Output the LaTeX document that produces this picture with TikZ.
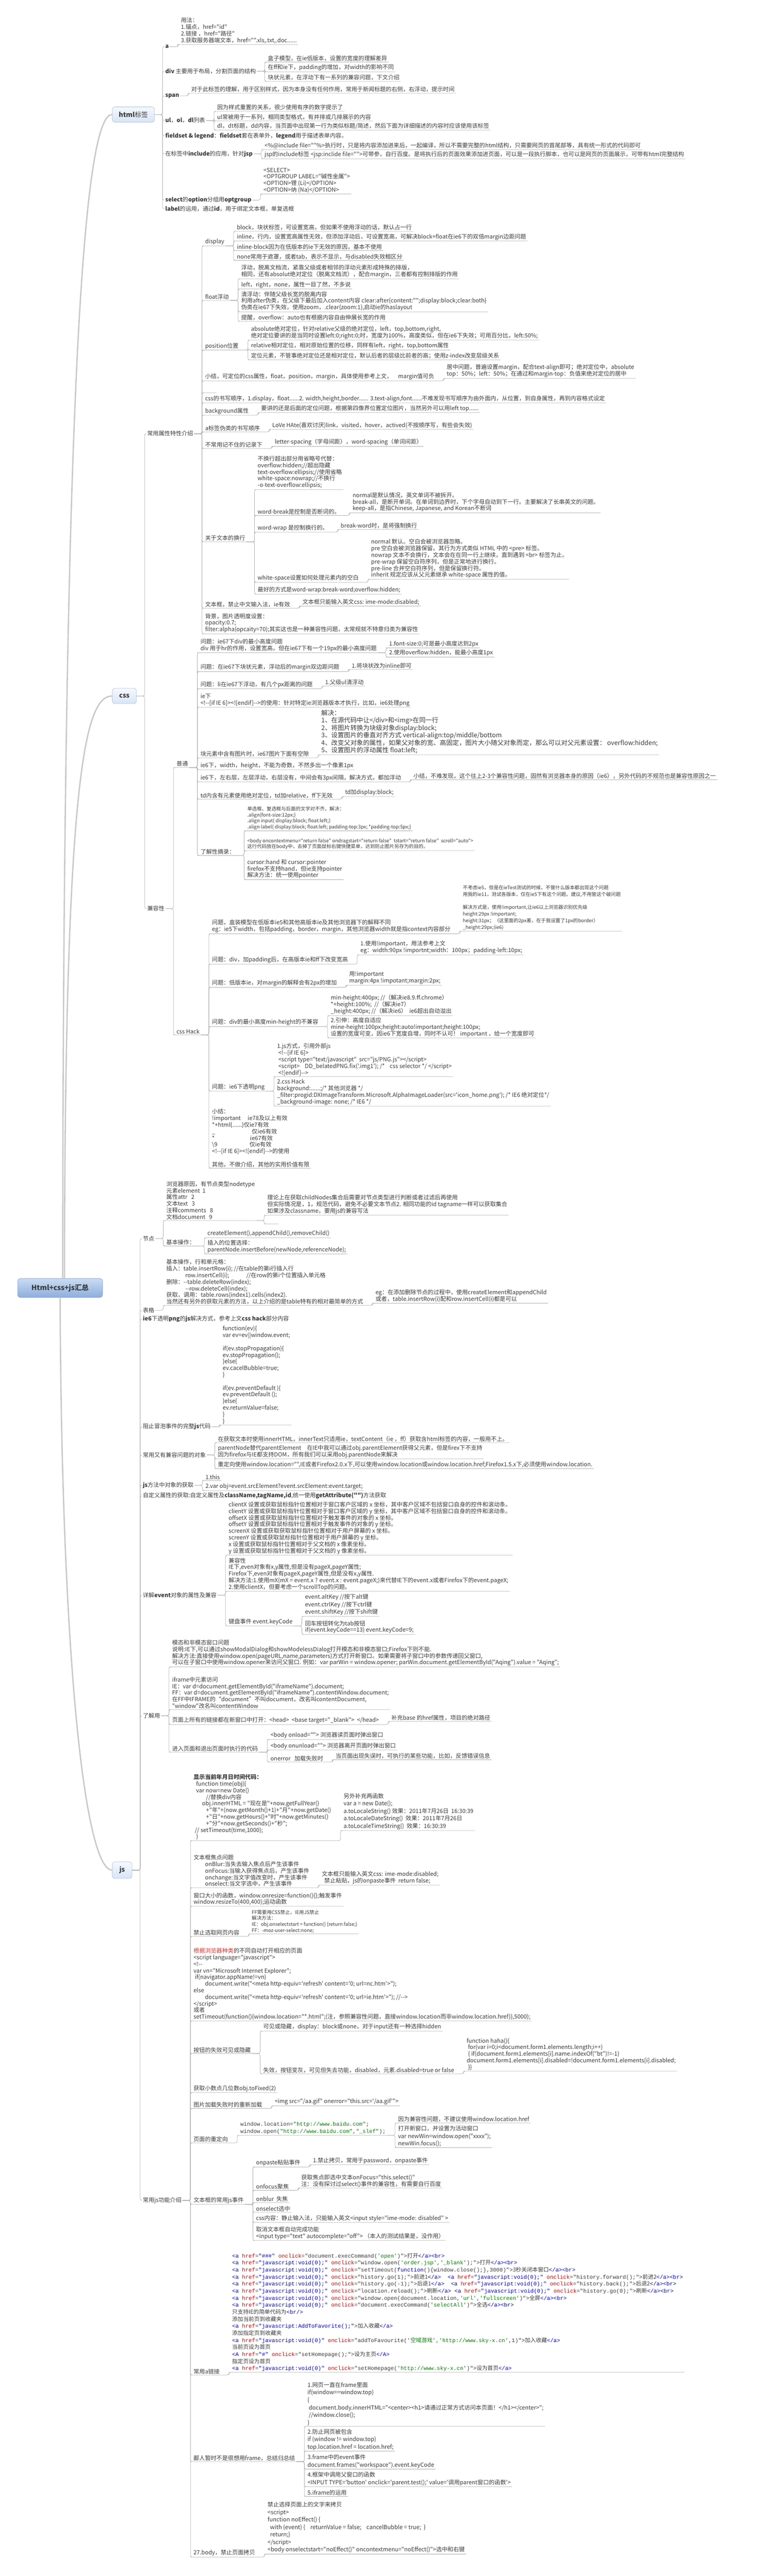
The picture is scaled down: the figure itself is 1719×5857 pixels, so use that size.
\documentclass[tikz,border=0pt]{standalone}
\usepackage{fontspec}
\usetikzlibrary{calc}
\newfontfamily\zhf{Noto Sans CJK SC}
\newfontfamily\monof{Liberation Mono}
\definecolor{txtc}{HTML}{3A3A3A}
\definecolor{lnkc}{HTML}{B4B4B4}
\definecolor{trunkc}{HTML}{C8C8C8}
\definecolor{boxtop}{HTML}{F6F9FE}
\definecolor{boxbot}{HTML}{D8E4F6}
\definecolor{boxedge}{HTML}{AFC1DA}
\definecolor{roottop}{HTML}{CADCF3}
\definecolor{rootbot}{HTML}{8DADDB}
\definecolor{rootedge}{HTML}{809DC8}
\definecolor{tagc}{HTML}{0000CC}
\definecolor{attc}{HTML}{CC0000}
\definecolor{strc}{HTML}{008000}
\definecolor{redc}{HTML}{E0302A}

\newcommand\fs{\zhf\fontsize{13}{15}\selectfont}
\newcommand\fsm{\zhf\fontsize{11}{13.5}\selectfont}
\newcommand\fsn{\zhf\fontsize{11}{15}\selectfont}
\newcommand\fsl{\zhf\fontsize{13}{17}\selectfont}
\newcommand\fbg{\zhf\fontsize{14.5}{17}\selectfont}
\newcommand\fcd{\monof\fontsize{12.5}{16}\selectfont}
\newcommand\zh[1]{{\zhf #1}}
\newcommand\tgc[1]{\textcolor{tagc}{#1}}
\newcommand\atc[1]{\textcolor{attc}{#1}}
\newcommand\svc[1]{\textcolor{strc}{#1}}

\tikzset{
  lnk/.style={draw=lnkc, line width=0.9pt, rounded corners=4pt},
  trunk/.style={draw=trunkc, line width=3pt, line cap=round},
  topic/.style={anchor=west, inner xsep=2pt, inner ysep=1pt, align=left, text=txtc, font=\fs},
  sub/.style={anchor=south west, inner xsep=3pt, inner ysep=2pt, align=left, text=txtc, font=\fs},
  small/.style={font=\fsm},
  narrow/.style={font=\fsn},
  loose/.style={font=\fsl},
  big/.style={font=\fbg},
  code/.style={font=\fcd},
  blank/.style={minimum width=28pt, minimum height=12pt},
  mainbox/.style={draw=boxedge, line width=0.8pt, rounded corners=6pt, top color=boxtop, bottom color=boxbot,
    minimum height=35pt, text=txtc, font=\zhf\fontsize{15}{18}\selectfont},
  rootbox/.style={draw=rootedge, line width=0.8pt, rounded corners=6pt, top color=roottop, bottom color=rootbot,
    minimum width=193pt, minimum height=43pt, text=txtc, font=\zhf\bfseries\fontsize{16}{19}\selectfont},
}

\newcommand\tpc[4]{\node[topic] (#2) at ($(#1.east |- 0,#3)+(22,0)$) {#4};
  \draw[lnk] (#1.east) -- ++(18,0) |- (#2.west);}
\newcommand\tsub[5][]{\node[sub,#1] (#3) at ($(#2.east |- 0,#4)+(22,9)$) {#5};
  \draw[lnk] (#2.east) -- ++(18,0) |- (#3.south west) -- (#3.south east);}
\newcommand\ssub[5][]{\node[sub,#1] (#3) at ($(#2.south east |- 0,#4)+(22,9)$) {#5};
  \draw[lnk] (#2.south east) -- ++(18,0) |- (#3.south west) -- (#3.south east);}

\begin{document}
\begin{tikzpicture}[x=1pt, y=-1pt]
\fill[white] (0,0) rectangle (1719,5857);
\useasboundingbox (0,0) rectangle (1719,5857);

\node[rootbox] (root) at (136.5,2928.5) {Html+css+js汇总};
\node[mainbox, minimum width=96pt] (html) at (303,260.5) {\textbf{html}标签};
\node[mainbox, minimum width=55pt] (css) at (282.5,1582.5) {\textbf{css}};
\node[mainbox, minimum width=45pt, minimum height=38pt] (js) at (277.5,4252) {\textbf{js}};
\draw[trunk] ([xshift=6pt]root.north) .. controls (143,700) and (200,260.5) .. (html.west);
\draw[trunk] ([xshift=10pt]root.north) .. controls (147,1750) and (195,1582.5) .. (css.west);
\draw[trunk] (root.south) .. controls (140,3800) and (195,4252) .. (js.west);

\tpc{html}{ha}{106}{\textbf{a}}
\tpc{html}{hdiv}{162}{\textbf{div} 主要用于布局，分割页面的结构}
\tpc{html}{hspan}{218}{\textbf{span}}
\tpc{html}{hul}{274}{\textbf{ul}，\textbf{ol}，\textbf{dl}列表}
\tpc{html}{hfs}{309}{\textbf{fieldset \& legend}：\textbf{fieldset}套在表单外，\textbf{legend}用于描述表单内容。}
\tpc{html}{hinc}{350}{在标签中\textbf{include}的应用，针对\textbf{jsp}}
\tpc{html}{hsel}{455}{\textbf{select}的\textbf{option}分组用\textbf{optgroup}}
\tpc{html}{hlab}{475}{\textbf{label}的运用，通过\textbf{id}，用于绑定文本框，单复选框}
\tsub{ha}{ha1}{92}{用法：\\1.锚点，href="id"\\2.链接 ，href="路径"\\3.获取服务器端文本，href="".xls,.txt,.doc......}
\tsub{hdiv}{hdiv1}{132}{盒子模型，在ie低版本，设置的宽度的理解差异}
\tsub{hdiv}{hdiv2}{154}{在ff和ie下，padding的增加，对width的影响不同}
\tsub{hdiv}{hdiv3}{176}{块状元素，在浮动下有一系列的兼容问题，下文介绍}
\tsub{hspan}{hspan1}{203}{对于此标签的理解，用于区别样式，因为本身没有任何作用，常用于新闻标题的右侧，右浮动，提示时间}
\tsub{hul}{hul1}{244}{因为样式重置的关系，很少使用有序的数字提示了}
\tsub{hul}{hul2}{266}{ul常被用于一系列，相同类型格式，有并排或几排展示的内容}
\tsub{hul}{hul3}{287}{dl，dt标题，dd内容，当页面中出现第一行为类似标题/简述，然后下面为详细描述的内容时应该使用该标签}
\tsub{hinc}{hinc1}{331}{<\%@include file=""\%>执行时，只是将内容添加进来后，一起编译，所以不需要完整的html结构，只需要网页的首尾部等，具有统一形式的代码即可}
\tsub{hinc}{hinc2}{352}{jsp的include标签 <jsp:inclide file="">可带参，自行百度。是将执行后的页面效果添加进页面，可以是一段执行脚本，也可以是网页的页面展示，可带有html完整结构}
\tsub{hsel}{hsel1}{432}{<SELECT>\\<OPTGROUP LABEL="碱性金属">\\<OPTION>锂 (Li)</OPTION>\\<OPTION>纳 (Na)</OPTION>}

\tpc{css}{attr}{986}{常用属性特性介绍}
\tpc{css}{cmp}{2066}{兼容性}
\tsub{attr}{disp}{550}{display}
\ssub{disp}{disp1}{517}{block，块状标签，可设置宽高，但如果不使用浮动的话，默认占一行}
\ssub{disp}{disp2}{539}{inline，行内，设置宽高属性无效，但添加浮动后，可设置宽高，可解决block+float在ie6下的双倍margin边距问题}
\ssub{disp}{disp3}{561}{inline-block因为在低版本的ie下无效的原因，基本不使用}
\ssub{disp}{disp4}{583}{none常用于遮罩，或者tab，表示不显示，与disabled失效相区分}
\tsub{attr}{flt}{674}{float浮动}
\ssub{flt}{flt1}{625}{浮动，脱离文档流，紧靠父级或者相邻的浮动元素形成特殊的排版，\\相同，还有absolut绝对定位（脱离文档流），配合margin，三者都有控制排版的作用}
\ssub{flt}{flt2}{648}{left，right，none，属性一目了然，不多说}
\ssub{flt}{flt3}{700}{清浮动：伴随父级长宽的脱离内容\\利用after伪类，在父级下最后加入content内容 clear:after\{content:"";display:block;clear:both\}\\伪类在ie67下失效，使用zoom，.clear\{zoom:1\},启动ie的haslayout}
\ssub{flt}{flt4}{722}{提醒，overflow：auto也有根据内容自由伸展长宽的作用}
\tsub{attr}{pos}{787}{position位置}
\ssub{pos}{pos1}{764}{absolute绝对定位，针对relative父级的绝对定位，left，top,bottom,right,\\绝对定位要讲的是当同时设置left:0;right:0;时，宽度为100\%，高度类似，但在ie6下失效；可用百分比，left:50\%;}
\ssub{pos}{pos2}{787}{relative相对定位，相对原始位置的位移，同样有left，right，top,bottom属性}
\ssub{pos}{pos3}{809}{定位元素，不管事绝对定位还是相对定位，默认后者的层级比前者的高；使用z-index改变层级关系}
\tsub{attr}{smry}{857}{小结，可定位的css属性，float，position，margin，具体使用参考上文，\quad margin值可负}
\ssub{smry}{smry1}{851}{居中问题，普遍设置margin，配合text-align即可；绝对定位中，absolute\\top：50\%；left：50\%；在通过和margin-top：负值来绝对定位的居中}
\tsub[blank]{attr}{blk}{884}{}
\tsub{attr}{ord}{907}{css的书写顺序，1.display，float......2. width,height,border...... 3.text-align,font......不难发现书写顺序为由外面内，从位置，到自身属性，再到内容格式设定}
\tsub{attr}{bgp}{935}{background属性}
\ssub{bgp}{bgp1}{929}{要讲的还是后面的定位问题，根据第四像界位置定位图片，当然另外可以用left top......}
\tsub{attr}{apc}{973}{a标签伪类的书写顺序}
\ssub{apc}{apc1}{967}{LoVe HAte(喜欢讨厌)link，visited，hover，actived(不按顺序写，有些会失效)}
\tsub{attr}{rare}{1011}{不常用记不住的记录下}
\ssub{rare}{rare1}{1006}{letter-spacing（字母间距），word-spacing（单词间距）}
\tsub{attr}{wrp}{1223}{关于文本的换行}
\ssub{wrp}{wrp1}{1104}{不换行超出部分用省略号代替：\\overflow:hidden;//超出隐藏\\text-overflow:ellipsis;//使用省略\\white-space:nowrap;//不换行\\-o-text-overflow:ellipsis;}
\ssub{wrp}{wrp2}{1163}{word-break是控制是否断词的。}
\ssub{wrp2}{wrp2a}{1157}{normal是默认情况，英文单词不被拆开。\\break-all，是断开单词。在单词到边界时，下个字母自动到下一行。主要解决了长串英文的问题。\\keep-all，是指Chinese, Japanese, and Korean不断词}
\ssub{wrp}{wrp3}{1201}{word-wrap 是控制换行的。}
\ssub{wrp3}{wrp3a}{1195}{break-word时，是将强制换行}
\ssub{wrp}{wrp4}{1315}{white-space设置如何处理元素内的空白}
\ssub{wrp4}{wrp4a}{1308}{normal 默认。空白会被浏览器忽略。\\pre 空白会被浏览器保留。其行为方式类似 HTML 中的 <pre> 标签。\\nowrap 文本不会换行，文本会在在同一行上继续，直到遇到 <br> 标签为止。\\pre-wrap 保留空白符序列，但是正常地进行换行。\\pre-line 合并空白符序列，但是保留换行符。\\inherit 规定应该从父元素继承 white-space 属性的值。}
\ssub{wrp}{wrp5}{1342}{最好的方式是word-wrap:break-word;overflow:hidden;}
\tsub{attr}{ime}{1374}{文本框，禁止中文输入法，ie有效}
\ssub{ime}{ime1}{1369}{文本框只能输入英文css: ime-mode:disabled;}
\tsub{attr}{opa}{1432}{背景，图片透明度设置：\\opacity:0.7;\\filter:alpha(opcaity=70);其实这也是一种兼容性问题，太常规就不特意归类为兼容性}

\tsub{cmp}{pt}{1736}{普通}
\tsub{cmp}{hk}{2344}{css Hack}
\ssub{pt}{q1}{1475}{问题：ie67下div的最小高度问题\\div 用于hr的作用，设置宽高，但在ie67下有一个19px的最小高度问题}
\ssub{q1}{q1a}{1464}{1.font-size:0;可是最小高度达到2px}
\ssub{q1}{q1b}{1485}{2.使用overflow:hidden，能最小高度1px}
\ssub{pt}{q2}{1518}{问题：在ie67下块状元素，浮动后的margin双边距问题}
\ssub{q2}{q2a}{1513}{1.将块状改为inline即可}
\ssub{pt}{q3}{1557}{问题：li在ie67下浮动，有几个px距离的问题}
\ssub{q3}{q3a}{1551}{1.父级ul清浮动}
\ssub{pt}{q4}{1599}{ie下\\<!-{}-[if IE 6]><![endif]-{}->的使用：针对特定ie浏览器版本才执行，比如，ie6处理png}
\ssub{pt}{q5}{1714}{块元素中含有图片时，ie67图片下面有空隙}
\ssub[big]{q5}{q5a}{1707}{解决：\\1、在源代码中让</div>和<img>在同一行\\2、将图片转换为块级对象display:block;\\3、设置图片的垂直对齐方式 vertical-align:top/middle/bottom\\4、改变父对象的属性，如果父对象的宽、高固定，图片大小随父对象而定，那么可以对父元素设置： overflow:hidden;\\5、设置图片的浮动属性 float:left;}
\ssub{pt}{q6}{1741}{ie6下，width，height，不能为奇数，不然多出一个像素1px}
\ssub{pt}{q7}{1769}{ie6下，左右层，左层浮动，右层没有，中间会有3px间隔，解决方式，都加浮动}
\ssub{q7}{q7a}{1764}{小结，不难发现，这个往上2-3个兼容性问题，固然有浏览器本身的原因（ie6），另外代码的不规范也是兼容性原因之一}
\ssub{pt}{q8}{1808}{td内含有元素使用绝对定位，td加relative，ff下无效}
\ssub{q8}{q8a}{1802}{td加display:block;}
\ssub{pt}{q9}{1936}{了解性摘录：}
\ssub[small]{q9}{q9a}{1880}{单选框、复选框与后面的文字对不齐。解决：\\.align\{font-size:12px;\}\\.align input\{ display:block; float:left;\}\\.align label\{ display:block; float:left; padding-top:3px; *padding-top:5px;\}}
\ssub[small]{q9}{q9b}{1925}{<body oncontextmenu="return false" ondragstart="return false"~ tstart="return false"~ scroll="auto">\\这行代码放在body中，去掉了页面鼠标右键快捷菜单，达到防止图片另存为的目的。}
\ssub{q9}{q9c}{1991}{cursor:hand 和 cursor:pointer\\firefox不支持hand，但ie支持pointer\\解决方法：统一使用pointer}
\ssub{hk}{h1}{2114}{问题，盒装模型在低版本ie5和其他高版本ie及其他浏览器下的解释不同\\eg：ie5下width，包括padding，border，margin，其他浏览器width就是指context内容部分}
\ssub[narrow]{h1}{h1a}{2108}{不考虑ie5，但是在ieTest测试的时候，不管什么版本都出现这个问题\\用我的ie11，测试各版本，仅在ie5下有这个问题。建议,不用管这个破问题\\[15pt]解决方式是，使用!important,让ie6以上浏览器识别优先级\\height:29px !important;\\height:31px；（这里面的2px差，在于我设置了1px的border）\\\_height:29px;(ie6)}
\ssub{hk}{h2}{2183}{问题：div，加padding后，在高版本ie和ff下改变宽高}
\ssub{h2}{h2a}{2162}{1.使用!important，用法参考上文\\eg：width:90px !importnt;width：100px；padding-left:10px;}
\ssub{hk}{h3}{2236}{问题：低版本ie，对margin的解释会有2px的增加}
\ssub{h3}{h3a}{2231}{用!important\\margin:4px !impotant;margin:2px;}
\ssub{hk}{h4}{2325}{问题：div的最小高度min-height的不兼容}
\ssub{h4}{h4a}{2300}{min-height:400px; //（解决ie8.9.ff.chrome）\\{}*+height:100\%;~ //（解决ie7）\\\_height:400px; //（解决ie6）~ ie6超出自动溢出}
\ssub{h4}{h4b}{2351}{2.引伸：高度自适应\\mine-height:100px;height:auto!important;height:100px;\\设置的宽度可变，因ie6下宽度自增，同时不认可！ important ，给一个宽度即可}
\ssub{hk}{h5}{2472}{问题：ie6下透明png}
\ssub{h5}{h5a}{2439}{1.js方式，引用外部js\\~<!-{}-[if IE 6]>\\~<script type="text/javascript"~ src="js/PNG.js"></script>\\~<script>~~~~DD\_belatedPNG.fix('.img1'); /*~~~~css selector */ </script>\\~<![endif]-{}->}
\ssub{h5}{h5b}{2506}{2.css Hack\\background:......;/* 其他浏览器 */\\\_filter:progid:DXImageTransform.Microsoft.AlphaImageLoader(src='icon\_home.png'); /* IE6 绝对定位*/\\\_background-image: none; /* IE6 */}
\ssub{hk}{h6}{2647}{小结：\\!important\hspace{1.2em}ie78及以上有效\\{}*+html\{......\}仅ie7有效\\\_\hspace{6.4em}仅ie6有效\\{}*\hspace{6.2em}ie67有效\\\textbackslash 9\hspace{5.6em}仅ie有效\\<!-{}-[if IE 6]><![endif]-{}->的使用\\[15pt]其他，不做介绍，其他的实用价值有限}

\tpc{js}{jnd}{2816}{节点}
\tpc{js}{jtb}{2979}{表格}
\tpc{js}{jpng}{2999}{\textbf{ie6}下透明\textbf{png}的\textbf{js}解决方式，参考上文\textbf{css hack}部分内容}
\tpc{js}{jbub}{3244}{阻止冒泡事件的完整\textbf{js}代码}
\tpc{js}{jobj}{3308}{常用又有兼容问题的对象}
\tpc{js}{jget}{3377}{\textbf{js}方法中对象的获取}
\tpc{js}{jatt}{3401}{自定义属性的获取:自定义属性及\textbf{className,tagName,id},统一使用\textbf{getAttribute("")}方法获取}
\tpc{js}{jevt}{3627}{详解\textbf{event}对象的属性及兼容}
\tpc{js}{juse}{3901}{了解用}
\tpc{js}{jfun}{5003}{常用js功能介绍}
\tsub{jnd}{nd1}{2766}{浏览器原因，有节点类型nodetype\\元素element~~1\\属性attr~~~2\\文本text~~~3\\注释comments~~~8\\文档document~~~9}
\ssub{nd1}{nd1a}{2754}{理论上在获取childNodes集合后需要对节点类型进行判断或者过滤后再使用\\但实际情况是，1，规范代码，避免不必要文本节点2. 相同功能的id tagname一样可以获取集合\\如果涉及classname，要用js的兼容写法}
\ssub[blank]{nd1}{nd1b}{2774}{}
\tsub{jnd}{nd2}{2824}{基本操作：}
\ssub{nd2}{nd2a}{2805}{createElement(),appendChild(),removeChild()}
\ssub{nd2}{nd2b}{2842}{插入的位置选择：\\parentNode.insertBefore(newNode,referenceNode);}
\tsub{jtb}{tb1}{2959}{基本操作，行和单元格：\\插入：table.insertRow(i); //在table的第i行插入行\\\hspace{3.3em}row.insertCell(i);\hspace{3em}//在row的第i个位置插入单元格\\删除：-{}-table.deleteRow(index);\\\hspace{3.3em}-{}-row.deleteCell(index);\\获取，调用：table.rows(index1).cells(index2).\\当然还有另外的获取元素的方法，以上介绍的是table特有的相对最简单的方式}
\ssub{tb1}{tb1a}{2954}{eg：在添加删除节点的过程中，使用createElement和appendChild\\或者，table.insertRow(i)配和row.insertCell(i)都是可以}
\tsub{jbub}{bub1}{3231}{function(ev)\{\\var ev=ev||window.event;\\[15pt]if(ev.stopPropagation)\{\\ev.stopPropagation();\\\}else\{\\ev.cacelBubble=true;\\\}\\[15pt]if(ev.preventDefault )\{\\ev.preventDefault ();\\\}else\{\\ev.returnValue=false;\\\}\\\}}
\tsub{jobj}{obj1}{3271}{在获取文本时使用innerHTML，innerText只适用ie，textContent（ie ，ff）获取含html标签的内容，一般用不上。}
\tsub{jobj}{obj2}{3308}{parentNode替代parentElement\quad 在IE中我可以通过obj.parentElement获得父元素，但是firex下不支持\\因为firefox与IE都支持DOM，所有我们可以采用obj.parentNode来解决}
\tsub{jobj}{obj3}{3330}{重定向使用window.location="",IE或者Firefox2.0.x下,可以使用window.location或window.location.href;Firefox1.5.x下,必须使用window.location.}
\tsub{jget}{get1}{3357}{1.this}
\tsub{jget}{get2}{3380}{2.var obj=event.srcElement?event.srcElement:event.target;}
\tsub{jevt}{ev1}{3527}{clientX 设置或获取鼠标指针位置相对于窗口客户区域的 x 坐标，其中客户区域不包括窗口自身的控件和滚动条。\\clientY 设置或获取鼠标指针位置相对于窗口客户区域的 y 坐标，其中客户区域不包括窗口自身的控件和滚动条。\\offsetX 设置或获取鼠标指针位置相对于触发事件的对象的 x 坐标。\\offsetY 设置或获取鼠标指针位置相对于触发事件的对象的 y 坐标。\\screenX 设置或获取获取鼠标指针位置相对于用户屏幕的 x 坐标。\\screenY 设置或获取鼠标指针位置相对于用户屏幕的 y 坐标。\\x 设置或获取鼠标指针位置相对于父文档的 x 像素坐标。\\y 设置或获取鼠标指针位置相对于父文档的 y 像素坐标。}
\tsub{jevt}{ev2}{3609}{兼容性\\IE下,even对象有x,y属性,但是没有pageX,pageY属性;\\Firefox下,even对象有pageX,pageY属性,但是没有x,y属性.\\解决方法:1.使用mX(mX = event.x ? event.x : event.pageX;)来代替IE下的event.x或者Firefox下的event.pageX;\\2.使用clientX，但要考虑一个scrollTop的问题。}
\tsub{jevt}{ev3}{3688}{键盘事件 event.keyCode}
\ssub[loose]{ev3}{ev3a}{3666}{event.altKey //按下alt键\\event.ctrlKey //按下ctrl键\\event.shiftKey //按下shift键}
\ssub{ev3}{ev3b}{3707}{回车按钮转化为tab按钮\\if(event.keyCode==13) event.keyCode=9;}
\tsub{juse}{us1}{3781}{模态和非模态窗口问题\\说明:IE下,可以通过showModalDialog和showModelessDialog打开模态和非模态窗口;Firefox下则不能.\\解决方法:直接使用window.open(pageURL,name,parameters)方式打开新窗口。如果需要将子窗口中的参数传递回父窗口,\\可以在子窗口中使用window.opener来访问父窗口. 例如：var parWin = window.opener; parWin.document.getElementById("Aqing").value = "Aqing";}
\tsub{juse}{us2}{3878}{iframe中元素访问\\IE：var d=document.getElementById("iframeName").document;\\FF：var d=document.getElementById("iframeName").contentWindow.document;\\在FF中IFRAME的“document”不叫document，改名叫contentDocument,\\"window"改名叫contentWindow}
\tsub{juse}{us3}{3912}{页面上所有的链接都在新窗口中打开：<head>~~<base target="\_blank">~~</head>}
\ssub{us3}{us3a}{3905}{补充base 的href属性，项目的绝对路径}
\tsub{juse}{us4}{3975}{进入页面和退出页面时执行的代码}
\ssub{us4}{us4a}{3946}{<body onload=""> 浏览器读页面时弹出窗口}
\ssub{us4}{us4b}{3970}{<body onunload=""> 浏览器离开页面时弹出窗口}
\ssub{us4}{us4c}{3997}{onerror~~~加载失败时}
\ssub{us4c}{us4c1}{3992}{当页面出现失误时，可执行的某些功能，比如，反馈错误信息}

\tsub{jfun}{fn1}{4176}{\textbf{显示当前年月日时间代码：}\\~~function time(obj)\{\\~~var now=new Date()\\\hspace{2.2em}//替换div内容\\\hspace{1.5em}obj.innerHTML = "现在是"+now.getFullYear()\\\hspace{2.2em}+"年"+(now.getMonth()+1)+"月"+now.getDate()\\\hspace{2.2em}+"日"+now.getHours()+"时"+now.getMinutes()\\\hspace{2.2em}+"分"+now.getSeconds()+"秒";\\~// setTimeout(time,1000);\\~~\}}
\ssub[loose]{fn1}{fn1a}{4153}{另外补充两函数\\var a = new Date();\\a.toLocaleString() 效果：2011年7月26日~ 16:30:39\\a.toLocaleDateString()~ 效果：2011年7月26日\\a.toLocaleTimeString()~ 效果：16:30:39}
\tsub{jfun}{fn2}{4283}{文本框焦点问题\\\hspace{2em}onBlur:当失去输入焦点后产生该事件\\\hspace{2em}onFocus:当输入获得焦点后，产生该事件\\\hspace{2em}onchange:当文字值改变时，产生该事件\\\hspace{2em}onselect:当文字选中，产生该事件}
\ssub{fn2}{fn2a}{4277}{文本框只能输入英文css: ime-mode:disabled;\\~~禁止粘贴，js的onpaste事件~~return false;}
\tsub{jfun}{fn3}{4325}{窗口大小的函数，window.onresize=function()\{\};触发事件\\window.resizeTo(400,400);运动函数}
\tsub{jfun}{fn4}{4394}{禁止选取网页内容}
\ssub[small]{fn4}{fn4a}{4388}{FF需要用CSS禁止，IE用JS禁止\\解决方法：\\IE：obj.onselectstart = function() \{return false;\}\\FF：-moz-user-select:none;}
\tsub{jfun}{fn5}{4586}{\textcolor{redc}{根据浏览器种类}的不同自动打开相应的页面\\<script language="javascript">\\<!-{}-\\var vn="Microsoft Internet Explorer";\\~if(navigator.appName!=vn)\\\hspace{2em}document.write("<meta http-equiv='refresh' content='0; url=nc.htm'>");\\else\\\hspace{2em}document.write("<meta http-equiv='refresh' content='0; url=ie.htm'>"); //-{}->\\</script>\\或者\\setTimeout(function()\{window.location="*.html";(注，参照兼容性问题，直接window.location而非window.location.href)\},5000);}
\tsub{jfun}{fn6}{4660}{按钮的失效可见或隐藏}
\ssub{fn6}{fn6a}{4609}{可见或隐藏，display：block或none，对于input还有一种选择hidden}
\ssub{fn6}{fn6b}{4706}{失效，按钮变灰，可见但失去功能，disabled，元素.disabled=true or false}
\ssub{fn6b}{fn6b1}{4700}{function haha()\{\\~for(var i=0;i<document.form1.elements.length;i++)\\~\{ if(document.form1.elements[i].name.indexOf("bt")!=-1)\\document.form1.elements[i].disabled=!document.form1.elements[i].disabled;\\~\}\}}
\tsub{jfun}{fn7}{4749}{获取小数点几位数obj.toFixed(2)}
\tsub{jfun}{fn8}{4785}{图片加载失败时的重新加载}
\ssub{fn8}{fn8a}{4779}{<img src="/aa.gif" onerror="this.src='/aa.gif'">}
\tsub{jfun}{fn9}{4863}{页面的重定向}
\ssub[code]{fn9}{fn9a}{4846}{window.location=\svc{"http://www.baidu.com"};\\window.open(\svc{"http://www.baidu.com"},\svc{"\_slef"});}
\ssub{fn9a}{fn9a1}{4818}{因为兼容性问题，不建议使用window.location.href}
\ssub[loose]{fn9a}{fn9a2}{4874}{打开新窗口，并设置为活动窗口\\var newWin=window.open("xxxx");\\newWin.focus();}
\tsub{jfun}{fn10}{5003}{文本框的常用js事件}
\ssub{fn10}{fn10a}{4918}{onpaste粘贴事件}
\ssub{fn10a}{fn10a1}{4913}{1.禁止拷贝，常用于password，onpaste事件}
\ssub{fn10}{fn10b}{4971}{onfocus聚焦}
\ssub{fn10b}{fn10b1}{4966}{获取焦点即选中文本onFocus="this.select()"\\注：没有探讨过select()事件的兼容性，有需要自行百度}
\ssub{fn10}{fn10c}{4999}{onblur~~失焦}
\ssub{fn10}{fn10d}{5021}{onselect选中}
\ssub{fn10}{fn10e}{5044}{css内容：静止输入法，只能输入英文<input style="ime-mode: disabled" >}
\ssub{fn10}{fn10f}{5085}{取消文本框自动完成功能\\<input type="text" autocomplete="off"> （本人的测试结果是，没作用）}
\tsub{jfun}{fn11}{5391}{常用a链接}
\ssub[code]{fn11}{fn11a}{5385}{\tgc{<a} \atc{href}=\tgc{"\#\#\#"} \atc{onclick}="document.execCommand(\svc{'open'})">\zh{打开}\tgc{</a><br>}\\
\tgc{<a} \atc{href}=\tgc{"javascript:void(0);"} \atc{onclick}="window.open(\svc{'order.jsp'},\svc{'\_blank'});">\zh{打开}\tgc{</a><br>}\\
\tgc{<a} \atc{href}=\tgc{"javascript:void(0);"} \atc{onclick}="setTimeout(\tgc{function}()\{window.close();\},3000)">\zh{3秒关闭本窗口}\tgc{</a><br>}\\
\tgc{<a} \atc{href}=\tgc{"javascript:void(0);"} \atc{onclick}="history.go(1);">\zh{前进1}\tgc{</a>}~ \tgc{<a} \atc{href}=\tgc{"javascript:void(0);"} \atc{onclick}="history.forward();">\zh{前进2}\tgc{</a><br>}\\
\tgc{<a} \atc{href}=\tgc{"javascript:void(0);"} \atc{onclick}="history.go(-1);">\zh{后退1}\tgc{</a>}~ \tgc{<a} \atc{href}=\tgc{"javascript:void(0);"} \atc{onclick}="history.back();">\zh{后退2}\tgc{</a><br>}\\
\tgc{<a} \atc{href}=\tgc{"javascript:void(0);"} \atc{onclick}="location.reload();">\zh{刷新}\tgc{</a>} \tgc{<a} \atc{href}=\tgc{"javascript:void(0);"} \atc{onclick}="history.go(0);">\zh{刷新}\tgc{</a><br>}\\
\tgc{<a} \atc{href}=\tgc{"javascript:void(0);"} \atc{onclick}="window.open(document.location,\svc{'url'},\svc{'fullscreen'})">\zh{全屏}\tgc{</a><br>}\\
\tgc{<a} \atc{href}=\tgc{"javascript:void(0);"} \atc{onclick}="document.execCommand(\svc{'selectAll'})">\zh{全选}\tgc{</a><br>}\\
\zh{只支持IE的简单代码为}\tgc{<br/>}\\
\zh{添加当前页到收藏夹}\\
\tgc{<a} \atc{href}=\tgc{"javascript:AddToFavorite();"}>\zh{加入收藏}\tgc{</a>}\\
\zh{添加指定页到收藏夹}\\
\tgc{<a} \atc{href}=\tgc{"javascript:void(0)"} \atc{onclick}="addToFavourite(\svc{'\zh{空域游戏}'},\svc{'http://www.sky-x.cn'},1)">\zh{加入收藏}\tgc{</a>}\\
\zh{当前页设为首页}\\
\tgc{<A} \atc{href}=\tgc{"\#"} \atc{onclick}="setHomepage();">\zh{设为主页}\tgc{</A>}\\
\zh{指定页设为首页}\\
\tgc{<a} \atc{href}=\tgc{"javascript:void(0)"} \atc{onclick}="setHomepage(\svc{'http://www.sky-x.cn'})">\zh{设为首页}\tgc{</a>}}
\tsub{jfun}{fn12}{5588}{鄙人暂时不是很想用frame，总结归总结}
\ssub[loose]{fn12}{fn12a}{5508}{1.网页一直在frame里面\\if(window==window.top)\\\{\\~document.body.innerHTML="<center><h1>请通过正常方式访问本页面！</h1></center>";\\~//window.close();\\\}}
\ssub[loose]{fn12}{fn12b}{5564}{2.防止网页被包含\\if (window != window.top)\\top.location.href = location.href;}
\ssub[loose]{fn12}{fn12c}{5605}{3.frame中的event事件\\document.frames("workspace").event.keyCode}
\ssub[loose]{fn12}{fn12d}{5645}{4.框架中调用父窗口的函数\\<INPUT TYPE='button' onclick='parent.test();' value='调用parent窗口的函数'>}
\ssub{fn12}{fn12e}{5667}{5.iframe的运用}
\tsub{jfun}{fn13}{5805}{27.body，禁止页面拷贝}
\ssub[loose]{fn13}{fn13a}{5798}{禁止选择页面上的文字来拷贝\\<script>\\function noEffect() \{\\~~with (event) \{~~~~returnValue = false;~~~~cancelBubble = true;~~\}\\~~return;\}\\</script>\\<body onselectstart="noEffect()" oncontextmenu="noEffect()">选中和右键}
\end{tikzpicture}
\end{document}
